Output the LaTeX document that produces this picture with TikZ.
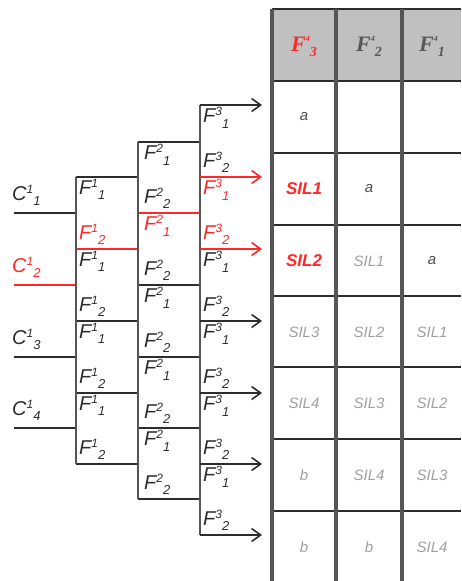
\documentclass[tikz,border=0pt]{standalone}
\usepackage{fontspec}
\setmainfont{Liberation Serif}
\setsansfont{Liberation Sans}
\usetikzlibrary{arrows.meta}
\definecolor{hl}{RGB}{255,40,40}
\definecolor{ink}{RGB}{45,45,45}
\definecolor{vgray}{RGB}{85,85,85}
\definecolor{hdr}{RGB}{192,192,192}
\definecolor{faint}{RGB}{160,160,160}
\newcommand\lbl[3]{#1\raisebox{7pt}{\fontsize{12}{12}\selectfont #2}\raisebox{-5.5pt}{\fontsize{13}{13}\selectfont #3}}
\newcommand\hlbl[1]{F\raisebox{10pt}{\fontsize{8}{8}\selectfont 4}\raisebox{-5pt}{\fontsize{14}{14}\selectfont #1}}
\begin{document}
\begin{tikzpicture}[x=1pt,y=-1pt,
  lab/.style={font=\sffamily\itshape\fontsize{20}{20}\selectfont, text=ink, inner sep=0pt},
  hline/.style={draw=ink, line width=1.8pt},
  vline/.style={draw=vgray, line width=2.6pt},
  redl/.style={draw=hl, line width=2.4pt},
  arr/.style={-{Straight Barb[length=9pt,width=13pt,line width=1.6pt]}, line width=1.8pt},
  thdr/.style={font=\rmfamily\bfseries\itshape\fontsize{22}{22}\selectfont, inner sep=0pt},
  tred/.style={font=\sffamily\bfseries\itshape\fontsize{17}{17}\selectfont, text=hl, inner sep=0pt},
  tfaint/.style={font=\sffamily\itshape\fontsize{15}{15}\selectfont, text=faint, inner sep=0pt},
  tdark/.style={font=\sffamily\itshape\fontsize{15}{15}\selectfont, text=ink!85, inner sep=0pt},
  tgrid/.style={draw=ink, line width=2pt},
  tvert/.style={draw=vgray, line width=3.4pt}]
\useasboundingbox (0,0) rectangle (461,581);
% grid coordinates
\foreach \k/\yy in {0/105,1/142,2/177,3/213,4/249,5/285,6/321,7/357,8/393,9/428,10/464,11/499,12/535}{
  \coordinate (z\k) at (14,\yy);
  \coordinate (a\k) at (76,\yy);
  \coordinate (b\k) at (138,\yy);
  \coordinate (c\k) at (200,\yy);
  \coordinate (d\k) at (262,\yy);
}
% input lines
\foreach \k in {3,7,9}{ \draw[hline] (z\k) -- (a\k); }
\draw[redl] (z5) -- (a5);
% stage 1 horizontals
\foreach \k in {2,6,8,10}{ \draw[hline] (a\k) -- (b\k); }
\draw[redl] (a4) -- (b4);
% stage 2 horizontals
\foreach \k in {1,5,7,9,11}{ \draw[hline] (b\k) -- (c\k); }
\draw[redl] (b3) -- (c3);
% stage verticals
\draw[vline] (a2) -- (a10);
\draw[vline] (b1) -- (b11);
\draw[vline] (c0) -- (c12);
% output arrows
\foreach \k in {0,6,8,10,12}{ \draw[arr, draw=ink] (c\k) -- (d\k); }
\foreach \k in {2,4}{ \draw[arr, draw=hl] (c\k) -- (d\k); }
% C labels
\foreach \k/\n/\c in {3/1/ink,5/2/hl,7/3/ink,9/4/ink}{
  \node[lab, text=\c, anchor=south west] (C\n) at ([shift={(-2,-7)}]z\k) {\lbl{C}{1}{\n}};
}
% stage 1 labels
\foreach \t/\b/\ca/\cb in {2/4/ink/hl,4/6/ink/ink,6/8/ink/ink,8/10/ink/ink}{
  \node[lab, text=\ca, anchor=north west] (s1t\t) at ([shift={(3,2)}]a\t) {\lbl{F}{1}{1}};
  \node[lab, text=\cb, anchor=south west] (s1b\b) at ([shift={(3,-4)}]a\b) {\lbl{F}{1}{2}};
}
% stage 2 labels
\foreach \t/\b/\ca/\cb in {1/3/ink/ink,3/5/hl/ink,5/7/ink/ink,7/9/ink/ink,9/11/ink/ink}{
  \node[lab, text=\ca, anchor=north west] (s2t\t) at ([shift={(6,2)}]b\t) {\lbl{F}{2}{1}};
  \node[lab, text=\cb, anchor=south west] (s2b\b) at ([shift={(6,-4)}]b\b) {\lbl{F}{2}{2}};
}
% stage 3 labels
\foreach \t/\b/\ca/\cb in {0/2/ink/ink,2/4/hl/hl,4/6/ink/ink,6/8/ink/ink,8/10/ink/ink,10/12/ink/ink}{
  \node[lab, text=\ca, anchor=north west] (s3t\t) at ([shift={(3,2)}]c\t) {\lbl{F}{3}{1}};
  \node[lab, text=\cb, anchor=south west] (s3b\b) at ([shift={(3,-4)}]c\b) {\lbl{F}{3}{2}};
}
% table
\fill[hdr] (272,9) rectangle (461,81);
\foreach \yy in {9,81,153,225,296,367,439,511}{ \draw[tgrid] (272,\yy) -- (461,\yy); }
\foreach \xx in {272,336,402}{ \draw[tvert] (\xx,9) -- (\xx,581); }
\node[thdr, text=hl] (h3) at (304,46) {\hlbl{3}};
\node[thdr, text=ink!80] (h2) at (369,46) {\hlbl{2}};
\node[thdr, text=ink!80] (h1) at (432,46) {\hlbl{1}};
\node[tdark] (r1c1) at (304,117) {a};
\node[tred] (r2c1) at (304,189) {SIL1};
\node[tdark] (r2c2) at (369,189) {a};
\node[tred] (r3c1) at (304,261) {SIL2};
\node[tfaint] (r3c2) at (369,261) {SIL1};
\node[tdark] (r3c3) at (432,261) {a};
\node[tfaint] (r4c1) at (304,332) {SIL3};
\node[tfaint] (r4c2) at (369,332) {SIL2};
\node[tfaint] (r4c3) at (432,332) {SIL1};
\node[tfaint] (r5c1) at (304,403) {SIL4};
\node[tfaint] (r5c2) at (369,403) {SIL3};
\node[tfaint] (r5c3) at (432,403) {SIL2};
\node[tfaint] (r6c1) at (304,475) {b};
\node[tfaint] (r6c2) at (369,475) {SIL4};
\node[tfaint] (r6c3) at (432,475) {SIL3};
\node[tfaint] (r7c1) at (304,547) {b};
\node[tfaint] (r7c2) at (369,547) {b};
\node[tfaint] (r7c3) at (432,547) {SIL4};
\end{tikzpicture}
\end{document}
